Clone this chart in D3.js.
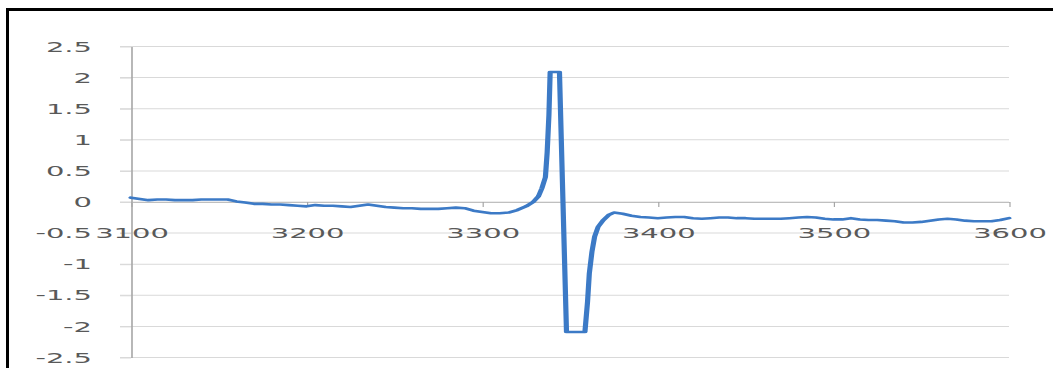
<!DOCTYPE html>
<html>
<head>
<meta charset="utf-8">
<script src="https://cdn.jsdelivr.net/npm/d3@7"></script>
<style>
  html, body { margin: 0; padding: 0; background: #fff; }
  svg { display: block; }
</style>
</head>
<body>
<div id="chart"></div>
<script>
// Magnetic field (G) and first-derivative signal intensity
const field = [
  3100, 3105, 3110, 3115, 3120, 3125, 3130, 3135, 3140, 3145,
  3150, 3155, 3160, 3165, 3170, 3175, 3180, 3185, 3190, 3195,
  3200, 3205, 3210, 3215, 3220, 3225, 3230, 3235, 3240, 3245,
  3250, 3255, 3260, 3265, 3270, 3275, 3280, 3285, 3290, 3295,
  3300, 3305, 3310, 3315, 3320, 3325, 3329, 3332, 3334, 3336,
  3337, 3338, 3338.7, 3341, 3344, 3346, 3348, 3353, 3358.5, 3360,
  3361, 3362.5, 3364, 3366, 3369, 3372, 3375, 3380, 3385, 3390,
  3395, 3400, 3405, 3410, 3415, 3420, 3425, 3430, 3435, 3440,
  3445, 3450, 3455, 3460, 3465, 3470, 3475, 3480, 3485, 3490,
  3495, 3500, 3505, 3510, 3515, 3520, 3525, 3530, 3535, 3540,
  3545, 3550, 3555, 3560, 3565, 3570, 3575, 3580, 3585, 3590,
  3595, 3600
];
const signal = [
  0.07, 0.05, 0.03, 0.04, 0.04, 0.03, 0.03, 0.03, 0.04, 0.04,
  0.04, 0.04, 0.01, -0.01, -0.03, -0.03, -0.04, -0.04, -0.05, -0.06,
  -0.07, -0.05, -0.06, -0.06, -0.07, -0.08, -0.06, -0.04, -0.06, -0.08,
  -0.09, -0.10, -0.10, -0.11, -0.11, -0.11, -0.10, -0.09, -0.10, -0.14,
  -0.16, -0.18, -0.18, -0.17, -0.13, -0.07, 0.00, 0.09, 0.22, 0.40,
  0.80, 1.40, 2.09, 2.09, 2.09, 0.00, -2.09, -2.09, -2.09, -1.60,
  -1.15, -0.80, -0.56, -0.40, -0.29, -0.21, -0.17, -0.19, -0.22, -0.24,
  -0.25, -0.26, -0.25, -0.24, -0.24, -0.26, -0.27, -0.26, -0.25, -0.25,
  -0.26, -0.26, -0.27, -0.27, -0.27, -0.27, -0.26, -0.25, -0.24, -0.25,
  -0.27, -0.28, -0.28, -0.26, -0.28, -0.29, -0.29, -0.30, -0.31, -0.33,
  -0.33, -0.32, -0.30, -0.28, -0.27, -0.28, -0.30, -0.31, -0.31, -0.31,
  -0.29, -0.26
];
const xTicks = [3100, 3200, 3300, 3400, 3500, 3600];
const yTicks = [2.5, 2, 1.5, 1, 0.5, 0, -0.5, -1, -1.5, -2, -2.5];

const W = 1053, H = 368;
const SX = 2; // plot is rendered with a 2:1 horizontal stretch

const outer = d3.select("#chart").append("svg")
  .attr("width", W).attr("height", H);

outer.append("rect").attr("width", W).attr("height", H).attr("fill", "#fff");

const svg = outer.append("svg")
  .attr("width", W).attr("height", H)
  .attr("viewBox", `0 0 ${W / SX} ${H}`)
  .attr("preserveAspectRatio", "none");

const x = d3.scaleLinear().domain([3100, 3600]).range([131 / SX, 1009 / SX]);
const y = d3.scaleLinear().domain([-2.5, 2.5]).range([357.5, 46.5]);

const textColor = "#595959";
const font = "DejaVu Sans, Verdana, sans-serif";

// horizontal gridlines
svg.append("g")
  .selectAll("line")
  .data(yTicks)
  .join("line")
  .attr("x1", x(3100) - 5.5)
  .attr("x2", x(3600))
  .attr("y1", d => y(d))
  .attr("y2", d => y(d))
  .attr("stroke", "#d9d9d9")
  .attr("stroke-width", 1);

// y axis
const yAxis = svg.append("g")
  .attr("transform", `translate(${x(3100)},0)`)
  .call(d3.axisLeft(y).tickValues(yTicks).tickFormat(d => String(d))
    .tickSize(5.5).tickSizeOuter(0).tickPadding(14));
yAxis.select(".domain").attr("stroke", "#a6a6a6").attr("stroke-width", 0.8);
yAxis.selectAll(".tick line").attr("stroke", "#d9d9d9");
yAxis.selectAll("text")
  .attr("fill", textColor)
  .attr("font-family", font)
  .attr("font-size", 14.5);

// x axis along the zero line
const xAxis = svg.append("g")
  .attr("transform", `translate(0,${y(0)})`)
  .call(d3.axisBottom(x).tickValues(xTicks).tickFormat(d => String(d))
    .tickSize(5).tickSizeOuter(0).tickPadding(21));
xAxis.select(".domain").attr("stroke", "#bfbfbf").attr("stroke-width", 1);
xAxis.selectAll(".tick line").attr("stroke", "#a6a6a6").attr("stroke-width", 0.6);
xAxis.selectAll("text")
  .attr("fill", textColor)
  .attr("font-family", font)
  .attr("font-size", 14.5);

// spectrum trace
const pts = field.map((f, i) => [f, signal[i]]);
svg.append("path")
  .datum(pts)
  .attr("fill", "none")
  .attr("stroke", "#3c7ac6")
  .attr("stroke-width", 2.6)
  .attr("stroke-linejoin", "round")
  .attr("stroke-linecap", "round")
  .attr("d", d3.line().x(d => x(d[0])).y(d => y(d[1])));

// outer frame
outer.append("rect")
  .attr("x", 7.5).attr("y", 9.5)
  .attr("width", W + 20).attr("height", H + 20)
  .attr("fill", "none")
  .attr("stroke", "#000")
  .attr("stroke-width", 3);
</script>
</body>
</html>
